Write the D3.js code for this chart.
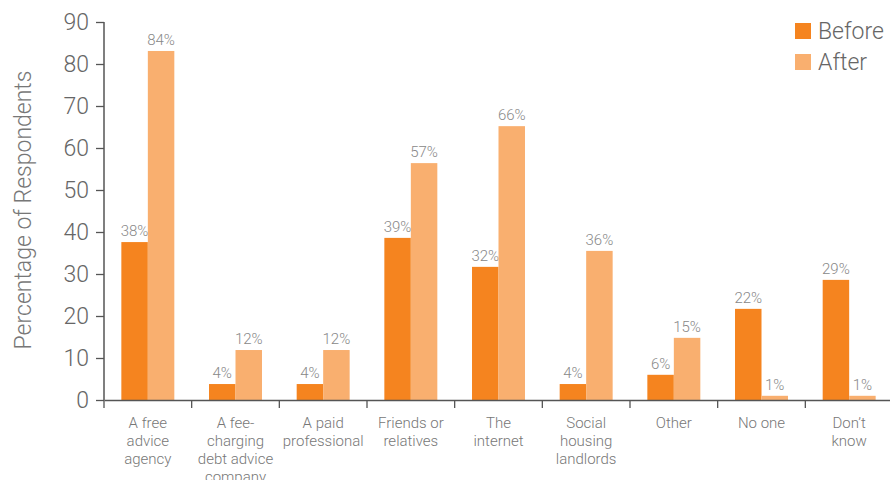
<!DOCTYPE html>
<html><head><meta charset="utf-8">
<script src="https://cdn.jsdelivr.net/npm/d3@7"></script>
<style>body{margin:0;background:#fff;} svg{display:block;font-family:"Roboto","Liberation Sans",sans-serif;}</style>
</head><body><svg id="c" width="890" height="480"></svg>
<script>
const categories = [["A free","advice","agency"],["A fee-","charging","debt advice","company"],["A paid","professional"],["Friends or","relatives"],["The","internet"],["Social","housing","landlords"],["Other"],["No one"],["Don\u2019t","know"]];
const before = [37.6, 3.8, 3.8, 38.6, 31.7, 3.8, 6.0, 21.7, 28.6];
const after = [83.1, 11.9, 11.9, 56.4, 65.2, 35.5, 14.8, 1.0, 1.0];
const beforeLabels = ["38%","4%","4%","39%","32%","4%","6%","22%","29%"];
const afterLabels = ["84%","12%","12%","57%","66%","36%","15%","1%","1%"];
const seriesNames = ["Before","After"];
const yTicks = [0,10,20,30,40,50,60,70,80,90];

const colors = ["#F5841F","#F9AF6F"];
const svg = d3.select("#c");
const mL = 104, mR = 893, mT = 22, mB = 400;
const keys = categories.map((d,i)=>i);
const x = d3.scaleBand().domain(keys).range([mL,mR]).paddingInner(0).paddingOuter(0);
const inner = d3.scaleBand().domain([0,1]).range([0, x.bandwidth()]).paddingOuter(0.655).paddingInner(0);
const y = d3.scaleLinear().domain([0,90]).range([mB, mT]);

// bars
const series = [before, after];
const labels = [beforeLabels, afterLabels];
series.forEach((vals, s) => {
  svg.append("g").selectAll("rect").data(vals).join("rect")
    .attr("x",(d,i)=>x(i)+inner(s)).attr("width",inner.bandwidth())
    .attr("y",d=>y(d)).attr("height",d=>y(0)-y(d)).attr("fill",colors[s]);
  svg.append("g").selectAll("text").data(vals).join("text")
    .attr("x",(d,i)=>x(i)+inner(s)+inner.bandwidth()/2).attr("y",d=>y(d)-6)
    .attr("text-anchor","middle").attr("font-size",15).attr("font-weight",300).attr("fill","#888")
    .text((d,i)=>labels[s][i]);
});

// y axis
const ya = svg.append("g").attr("transform",`translate(${mL},0)`)
  .call(d3.axisLeft(y).tickValues(yTicks).tickSize(8).tickPadding(7).tickSizeOuter(0));
ya.select(".domain").attr("stroke","#555").attr("stroke-width",1.5).attr("d",`M0,${mT}V${mB}`);
ya.selectAll(".tick line").attr("stroke","#555").attr("stroke-width",1.3);
ya.selectAll(".tick text").attr("font-size",23).attr("font-weight",300).attr("fill","#666").attr("font-family","Roboto, sans-serif");

// x axis
const xa = svg.append("g").attr("transform",`translate(0,${mB})`)
  .call(d3.axisBottom(x).tickSize(0).tickFormat(""));
xa.select(".domain").attr("stroke","#555").attr("stroke-width",1.5);
xa.selectAll(".tick").remove();
xa.selectAll(".bt").data(keys).join("line").attr("class","bt")
  .attr("x1",d=>x(d)).attr("x2",d=>x(d)).attr("y1",0).attr("y2",8)
  .attr("stroke","#555").attr("stroke-width",1.3);
const xl = svg.append("g").selectAll("text").data(categories).join("text")
  .attr("text-anchor","middle").attr("font-size",15).attr("font-weight",300).attr("fill","#777")
  .attr("transform",(d,i)=>`translate(${x(i)+x.bandwidth()/2},428)`);
xl.selectAll("tspan").data(d=>d).join("tspan").attr("x",0).attr("dy",(d,j)=>j===0?0:18).text(d=>d);

// y title
svg.append("text").attr("transform","translate(31,210) rotate(-90)").attr("text-anchor","middle")
  .attr("font-size",23).attr("font-weight",300).attr("fill","#777").text("Percentage of Respondents");

// legend
const lg = svg.append("g").selectAll("g").data(seriesNames).join("g")
  .attr("transform",(d,i)=>`translate(795,${23+i*31})`);
lg.append("rect").attr("width",16).attr("height",16).attr("fill",(d,i)=>colors[i]);
lg.append("text").attr("x",23).attr("y",16).attr("font-size",23).attr("font-weight",300).attr("fill","#666").text(d=>d);
</script></body></html>
